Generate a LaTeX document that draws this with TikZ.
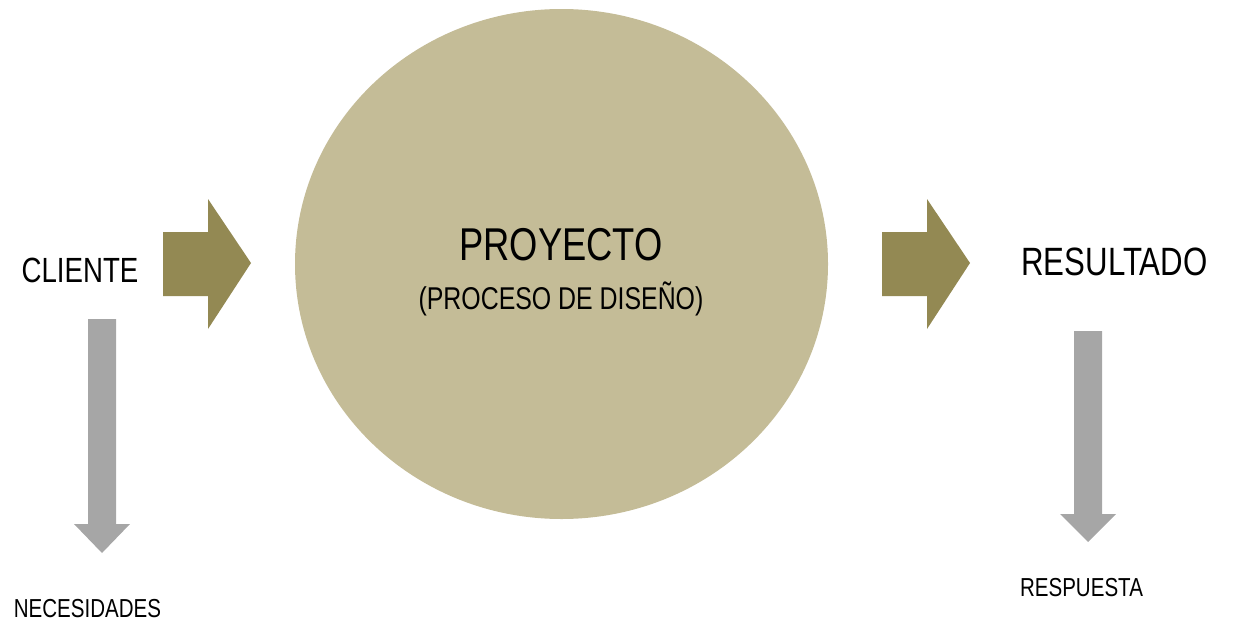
\documentclass[tikz,border=0pt]{standalone}
\usepackage{fontspec}
\setmainfont{Liberation Sans}[FakeStretch=0.79]
\definecolor{tan}{HTML}{C4BC97}
\definecolor{olive}{HTML}{938953}
\definecolor{greyarrow}{HTML}{A6A6A6}
\tikzset{
  lbl/.style={anchor=base, inner sep=0pt, text=black},
  olivearrow/.style={fill=olive, draw=none},
  greyarrowstyle/.style={fill=greyarrow, draw=none},
}
\begin{document}
\begin{tikzpicture}[x=1pt,y=-1pt]
\useasboundingbox (0,0) rectangle (1234,624);
% circle
\fill[tan] (561.5,264) ellipse [x radius=266.5, y radius=255];
% olive arrows
\coordinate (la) at (163,264);
\coordinate (ra) at (882,264);
\foreach \c in {la,ra}{
  \fill[olivearrow] ([shift={(0,-32)}]\c) -- ++(45,0) -- ++(0,-33) -- ++(43,64) -- ++(-43,66) -- ++(0,-33) -- ++(-45,0) -- cycle;
}
% grey arrows
\coordinate (lg) at (102,319);
\coordinate (rg) at (1088,331);
\fill[greyarrowstyle] ([shift={(-14,0)}]lg) -- ++(28,0) -- ++(0,205) -- ++(14,0) -- (102,553) -- ++(-28,-29) -- ++(14,0) -- cycle;
\fill[greyarrowstyle] ([shift={(-14,0)}]rg) -- ++(28,0) -- ++(0,183) -- ++(14,0) -- (1088,542) -- ++(-28,-28) -- ++(14,0) -- cycle;
% texts
\node[lbl] (cliente) at (80,282) {\fontsize{35}{40}\selectfont CLIENTE};
\node[lbl] (resultado) at (1114.5,275) {\fontsize{39.5}{44}\selectfont RESULTADO};
\node[lbl] (proyecto) at (561,260) {\fontsize{46}{50}\selectfont PROYECTO};
\node[lbl] (proceso) at (561,309) {\fontsize{31.5}{36}\selectfont (PROCESO DE DISEÑO)};
\node[lbl] (necesidades) at (87.5,617) {\fontsize{26}{30}\selectfont NECESIDADES};
\node[lbl] (respuesta) at (1081.5,596) {\fontsize{26}{30}\selectfont RESPUESTA};
\end{tikzpicture}
\end{document}
